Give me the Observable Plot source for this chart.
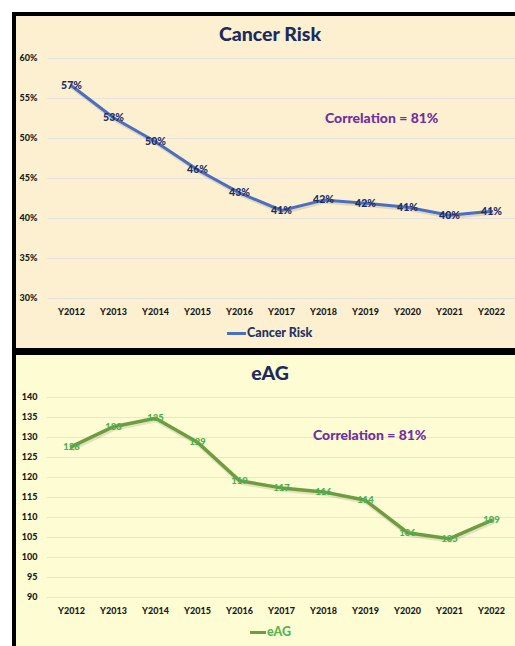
<!DOCTYPE html>
<html><head><meta charset="utf-8">
<script src="https://cdn.jsdelivr.net/npm/d3@7"></script>
<script src="https://cdn.jsdelivr.net/npm/@observablehq/plot@0.6"></script>
<style>
html,body{margin:0;padding:0;}
body{width:515px;height:646px;overflow:hidden;background:#fff;font-family:Lato,"Open Sans",sans-serif;position:relative;}
#frame{position:absolute;left:12px;top:12px;width:520px;height:650px;background:#000;}
.panel{position:absolute;left:16px;width:520px;overflow:hidden;}
#p1{top:16px;height:332px;background:#FDF0D0;}
#p2{top:355px;height:300px;background:#FEFCD3;}
.title{position:absolute;left:154px;width:200px;text-align:center;font-weight:900;color:#1C2A5E;line-height:1;z-index:2;}
.corr{position:absolute;font-weight:900;font-size:14px;color:#7030A0;line-height:1;white-space:nowrap;z-index:2;}
.chart{position:absolute;left:0;z-index:1;}
.legend{position:absolute;font-weight:900;font-size:12.5px;line-height:1;white-space:nowrap;display:flex;align-items:center;z-index:2;}
.legend .sw{display:inline-block;width:19px;height:3px;margin-right:1px;}
</style>
</head><body>
<div id="frame"></div>
<div class="panel" id="p1">
  <div class="title" style="top:8px;font-size:19.5px;">Cancer Risk</div>
  <div class="chart" id="c1" style="top:24px;"></div>
  <div class="corr" style="left:309px;top:95px;">Correlation = 81%</div>
  <div class="legend" style="left:211px;top:311px;color:#1F3564;"><span class="sw" style="background:#4A6FC0"></span>Cancer Risk</div>
</div>
<div class="panel" id="p2">
  <div class="title" style="top:8px;font-size:19.5px;">eAG</div>
  <div class="chart" id="c2" style="top:24px;"></div>
  <div class="corr" style="left:297px;top:73px;">Correlation = 81%</div>
  <div class="legend" style="left:234px;top:271px;color:#55B555;"><span class="sw" style="background:#6E9C40;width:16px;"></span>eAG</div>
</div>
<script>
const years = ["Y2012","Y2013","Y2014","Y2015","Y2016","Y2017","Y2018","Y2019","Y2020","Y2021","Y2022"];
const cancerRisk = [56.6, 52.6, 49.6, 46.1, 43.2, 41.0, 42.3, 41.9, 41.4, 40.4, 40.9];
const eAG = [127.7, 132.7, 134.8, 128.8, 119.2, 117.4, 116.4, 114.3, 106.2, 104.7, 109.3];
const cancerTicks = [30, 35, 40, 45, 50, 55, 60];
const eagTicks = [90, 95, 100, 105, 110, 115, 120, 125, 130, 135, 140];

const d1 = years.map((y, i) => ({year: y, v: cancerRisk[i]}));
const d2 = years.map((y, i) => ({year: y, v: eAG[i]}));

function chart(data, opts) {
  return Plot.plot({
    width: 500,
    height: opts.height,
    marginTop: 18,
    marginBottom: 30,
    marginLeft: 31,
    marginRight: 1,
    style: {background: "transparent", fontFamily: "Lato, 'Open Sans', sans-serif", fontWeight: 900, fontSize: "9px", color: "#222"},
    x: {type: "point", domain: years, padding: 0.5, label: null},
    y: {domain: opts.domain, label: null},
    marks: [
      Plot.gridY(opts.ticks, {stroke: opts.grid, strokeOpacity: 1, strokeWidth: 1}),
      Plot.axisY({ticks: opts.ticks, tickSize: 0, tickPadding: 10, tickFormat: opts.tickFormat, label: null, fill: "#1a1a1a", fontWeight: 900}),
      Plot.axisX({tickSize: 0, tickPadding: 10, label: null, fill: "#1a1a1a", fontWeight: 900}),
      Plot.line(data, {x: "year", y: "v", stroke: "#000", strokeOpacity: 0.1, strokeWidth: opts.lw + 1.5, dx: 1, dy: 1.5}),
      Plot.line(data, {x: "year", y: "v", stroke: opts.color, strokeWidth: opts.lw}),
      Plot.text(data, {x: "year", y: "v", text: d => opts.labelFormat(d.v), fill: opts.labelColor, fontSize: opts.labelSize, fontWeight: 900})
    ]
  });
}

document.getElementById("c1").appendChild(chart(d1, {
  height: 288, domain: [30, 60], ticks: cancerTicks, tickFormat: d => d + "%",
  grid: "#E6E0DE", color: "#4A6FC0", lw: 3, labelColor: "#1E2E63", labelSize: 10.5,
  labelFormat: v => Math.round(v) + "%"
}));
document.getElementById("c2").appendChild(chart(d2, {
  height: 248, domain: [90, 140], ticks: eagTicks, tickFormat: d => String(d),
  grid: "#E6E4DC", color: "#6E9C40", lw: 3.5, labelColor: "#4CB050", labelSize: 9.5,
  labelFormat: v => String(Math.round(v))
}));
</script>
</body></html>
